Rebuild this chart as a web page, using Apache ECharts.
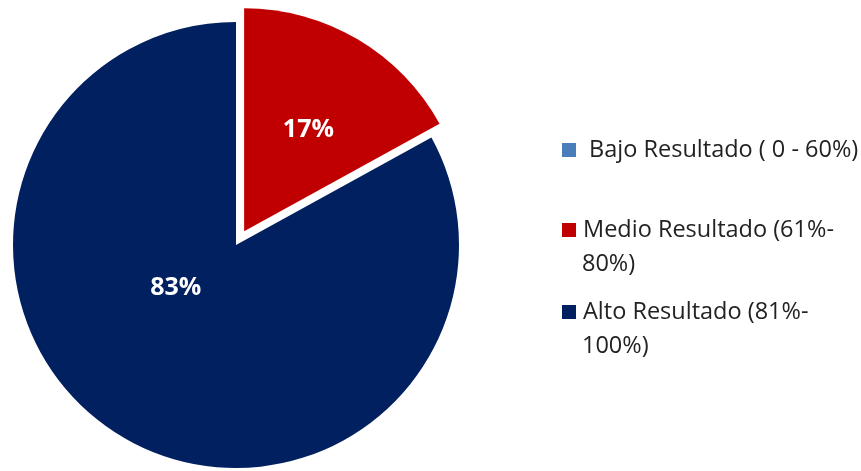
<!DOCTYPE html>
<html>
<head>
<meta charset="utf-8">
<script src="https://cdn.jsdelivr.net/npm/echarts@6/dist/echarts.min.js"></script>
<style>
  html, body { margin: 0; padding: 0; background: #ffffff; }
  #chart { width: 861px; height: 471px; }
</style>
</head>
<body>
<div id="chart"></div>
<script>
// Result bands and their shares (percent)
const categories = [' Bajo Resultado ( 0 - 60%)', 'Medio Resultado (61%-\n80%)', 'Alto Resultado (81%-\n100%)'];
const values = [0, 17, 83];
const colors = ['#4a7ebb', '#c00000', '#002060'];

const FONT = '"Open Sans", "Liberation Sans", sans-serif';
const LINE = 34;

// Each legend entry is laid out with a rich-text square so the swatch sits on the first line
const rich = {
  t: { fontFamily: FONT, fontSize: 23.5, color: '#222222', lineHeight: LINE },
  ind: { width: 20, lineHeight: LINE },
  gap: { width: 7, lineHeight: LINE }
};
colors.forEach(function (c, i) {
  rich['sq' + i] = { width: 14, height: 14, backgroundColor: c, verticalAlign: 'middle' };
});

function legendText(name) {
  const i = categories.indexOf(name);
  const lines = name.split('\n');
  let s = '{sq' + i + '| }{gap| }{t|' + lines[0] + '}';
  for (let k = 1; k < lines.length; k++) {
    s += '\n{ind| }{t|' + lines[k] + '}';
  }
  return s;
}

const legendTops = [133, 213, 295];
const legends = categories.map(function (name, i) {
  return {
    data: [name],
    orient: 'vertical',
    left: 557,
    top: legendTops[i],
    padding: 0,
    itemWidth: 0,
    itemHeight: 0,
    selectedMode: false,
    formatter: legendText,
    textStyle: { rich: rich, lineHeight: LINE }
  };
});

const labelOffsets = [[0, 0], [6, -3], [-2, -56]];

const data = categories.map(function (name, i) {
  const label = { show: values[i] > 0, offset: labelOffsets[i] };
  return {
    name: name,
    value: values[i],
    selected: i === 1,
    itemStyle: { color: colors[i], borderWidth: 0 },
    label: label,
    select: { label: label, itemStyle: { color: colors[i] } }
  };
});

const chart = echarts.init(document.getElementById('chart'), null, { renderer: 'canvas' });
chart.setOption({
  animation: false,
  backgroundColor: '#ffffff',
  legend: legends,
  series: [{
    type: 'pie',
    center: [236, 245],
    radius: 223,
    startAngle: 90,
    clockwise: true,
    selectedMode: 'single',
    selectedOffset: 16,
    avoidLabelOverlap: false,
    label: {
      position: 'inside',
      formatter: function (p) { return p.value + '%'; },
      color: '#ffffff',
      fontFamily: FONT,
      fontWeight: 'bold',
      fontSize: 25
    },
    labelLine: { show: false },
    emphasis: { disabled: true },
    data: data
  }]
});
</script>
</body>
</html>
